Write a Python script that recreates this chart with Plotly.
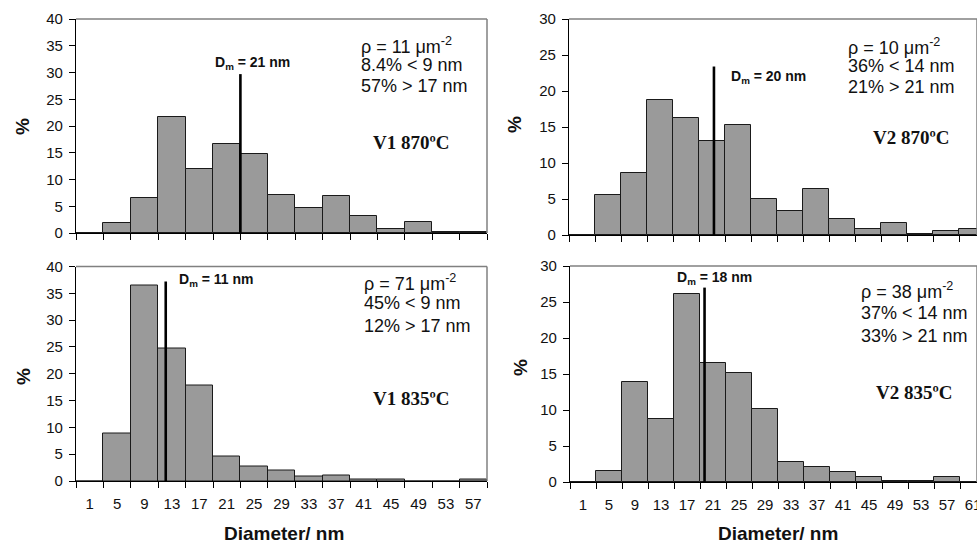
import plotly.graph_objects as go

# ---------------- data ----------------
labels_v1 = ["1", "5", "9", "13", "17", "21", "25", "29", "33", "37", "41", "45", "49", "53", "57"]
labels_v2 = labels_v1 + ["61"]
centers_v1 = [int(s) for s in labels_v1]
centers_v2 = [int(s) for s in labels_v2]

v1_870 = [0, 1.9, 6.5, 21.7, 11.9, 16.6, 14.7, 7.1, 4.7, 7.0, 3.1, 0.8, 2.0, 0.2, 0.2]
v2_870 = [0, 5.5, 8.65, 18.8, 16.3, 13.05, 15.3, 4.95, 3.3, 6.4, 2.2, 0.8, 1.6, 0.2, 0.55, 0.8]
v1_835 = [0, 8.8, 36.4, 24.7, 17.8, 4.6, 2.7, 1.9, 0.9, 1.1, 0.2, 0.2, 0, 0, 0.2]
v2_835 = [0, 1.5, 13.9, 8.7, 26.1, 16.5, 15.2, 10.2, 2.8, 2.1, 1.35, 0.75, 0.2, 0.2, 0.75, 0]

dm_labels = ["21", "20", "11", "18"]          # D_m values (nm)
dm_x = [23.0, 21.3, 12.1, 19.7]              # where the marker line sits on the axis
dm_top = [29.7, 23.4, 37.2, 27.0]            # marker line height (%)

rho = ["11", "10", "71", "38"]
lower = ["8.4% < 9 nm", "36% < 14 nm", "45% < 9 nm", "37% < 14 nm"]
upper = ["57% > 17 nm", "21% > 21 nm", "12% > 17 nm", "33% > 21 nm"]
sample = ["V1 870ºC", "V2 870ºC", "V1 835ºC", "V2 835ºC"]

# ---------------- figure ----------------
W, H = 977, 543
SANS = "Liberation Sans, Arial, sans-serif"
SERIF = "Liberation Serif, Times New Roman, serif"
BAR = "#9a9a9a"
FRAME = "#808080"

def px(x):
    return x / W

def py(y):
    return 1 - y / H

panels = [
    dict(vals=v1_870, centers=centers_v1, labels=labels_v1, ymax=40,
         xdom=(76, 487), ydom=(19, 233), bottom=False, xmax=59),
    dict(vals=v2_870, centers=centers_v2, labels=labels_v2, ymax=30,
         xdom=(569, 977), ydom=(19, 235), bottom=False, xmax=-1 + (977 - 569) / 26 * 4),
    dict(vals=v1_835, centers=centers_v1, labels=labels_v1, ymax=40,
         xdom=(76, 487), ydom=(266.5, 481), bottom=True, xmax=59),
    dict(vals=v2_835, centers=centers_v2, labels=labels_v2, ymax=30,
         xdom=(570, 977), ydom=(266, 482), bottom=True, xmax=-1 + (977 - 570) / 26 * 4),
]

fig = go.Figure()
layout = dict(
    width=W, height=H, autosize=False, margin=dict(l=0, r=0, t=0, b=0, pad=0, autoexpand=False),
    paper_bgcolor="white", plot_bgcolor="white",
    showlegend=False, bargap=0,
    font=dict(family=SANS, color="#111111"),
)
annotations = []
shapes = []

for i, p in enumerate(panels):
    n = "" if i == 0 else str(i + 1)
    xa, ya = "x" + n, "y" + n
    fig.add_trace(go.Bar(
        x=p["centers"], y=p["vals"], width=4,
        marker=dict(color=BAR, line=dict(color="#1a1a1a", width=1)),
        xaxis=xa, yaxis=ya, hoverinfo="skip",
    ))
    fig.add_trace(go.Scatter(
        x=[dm_x[i], dm_x[i]], y=[0, dm_top[i]], mode="lines",
        line=dict(color="black", width=2.6),
        xaxis=xa, yaxis=ya, hoverinfo="skip",
    ))
    edges = [c - 2 for c in p["centers"]] + [p["centers"][-1] + 2]
    layout["xaxis" + n] = dict(
        domain=[px(p["xdom"][0]), px(p["xdom"][1])],
        range=[-1, p["xmax"]], anchor=ya, automargin=False,
        tickmode="array", tickvals=p["centers"], ticktext=p["labels"],
        ticks="", showticklabels=p["bottom"], ticklabeloverflow="allow",
        ticklabelstandoff=9,
        tickfont=dict(size=15, family=SANS, color="#111111"),
        minor=dict(tickmode="array", tickvals=edges, ticks="outside", ticklen=6,
                   tickcolor="black", tickwidth=1, showgrid=False),
        showline=True, linecolor="black", linewidth=1.2,
        showgrid=False, zeroline=False, fixedrange=True,
    )
    layout["yaxis" + n] = dict(
        domain=[py(p["ydom"][1]), py(p["ydom"][0])],
        range=[0, p["ymax"]], anchor=xa, automargin=False,
        tickmode="array", tickvals=list(range(0, p["ymax"] + 1, 5)),
        ticks="outside", ticklen=6, tickcolor="black", ticklabelstandoff=3,
        tickfont=dict(size=15, family=SANS, color="#111111"),
        showline=True, linecolor="black", linewidth=1.2,
        showgrid=False, zeroline=False, fixedrange=True,
    )
    shapes.append(dict(type="line", xref=xa + " domain", yref=ya + " domain",
                       x0=0, x1=1, y0=1, y1=1, line=dict(color=FRAME, width=1.5)))
    shapes.append(dict(type="line", xref=xa + " domain", yref=ya + " domain",
                       x0=1, x1=1, y0=0, y1=1, line=dict(color=FRAME, width=1.5)))

# ---- text annotations (pixel positions) ----
dm_pos = [(252, 63, "center"), (729, 77, "left"), (177, 280, "left"), (675, 278, "left")]
info_pos = [(359, (45, 65, 86)), (846, (46, 66, 87)), (362, (282, 303, 326)), (859, (290, 313, 336))]
sample_pos = [(411, 142), (911, 137), (411, 398), (914, 392)]
ytitle_pos = [(23, 127), (515, 125), (23, 377), (520, 368)]

for i in range(4):
    x, y, anc = dm_pos[i]
    annotations.append(dict(
        xref="paper", yref="paper", x=px(x), y=py(y), xanchor=anc, yanchor="middle",
        text="<b>D<sub>m</sub> = %s nm</b>" % dm_labels[i], showarrow=False,
        font=dict(size=14, family=SANS, color="#111111")))
    x0, ys = info_pos[i]
    lines = ["ρ = %s μm<sup>-2</sup>" % rho[i], lower[i], upper[i]]
    for t, yy in zip(lines, ys):
        annotations.append(dict(
            xref="paper", yref="paper", x=px(x0), y=py(yy), xanchor="left", yanchor="middle",
            text=t, showarrow=False, font=dict(size=18, family=SANS, color="#111111")))
    sx, sy = sample_pos[i]
    annotations.append(dict(
        xref="paper", yref="paper", x=px(sx), y=py(sy), xanchor="center", yanchor="middle",
        text="<b>%s</b>" % sample[i], showarrow=False,
        font=dict(size=19, family=SERIF, color="#111111")))
    tx, ty = ytitle_pos[i]
    annotations.append(dict(
        xref="paper", yref="paper", x=px(tx), y=py(ty), xanchor="center", yanchor="middle",
        text="<b>%</b>", textangle=-90, showarrow=False,
        font=dict(size=19, family=SANS, color="#111111")))

for cx in (284, 778):
    annotations.append(dict(
        xref="paper", yref="paper", x=px(cx), y=py(533), xanchor="center", yanchor="middle",
        text="<b>Diameter/ nm</b>", showarrow=False,
        font=dict(size=19, family=SANS, color="#111111")))

layout["annotations"] = annotations
layout["shapes"] = shapes
fig.update_layout(**layout)
fig.write_html(
    "out.html",
    config={"responsive": False, "displayModeBar": False},
    post_script="document.body.style.margin='0';document.body.style.overflow='hidden';",
)
